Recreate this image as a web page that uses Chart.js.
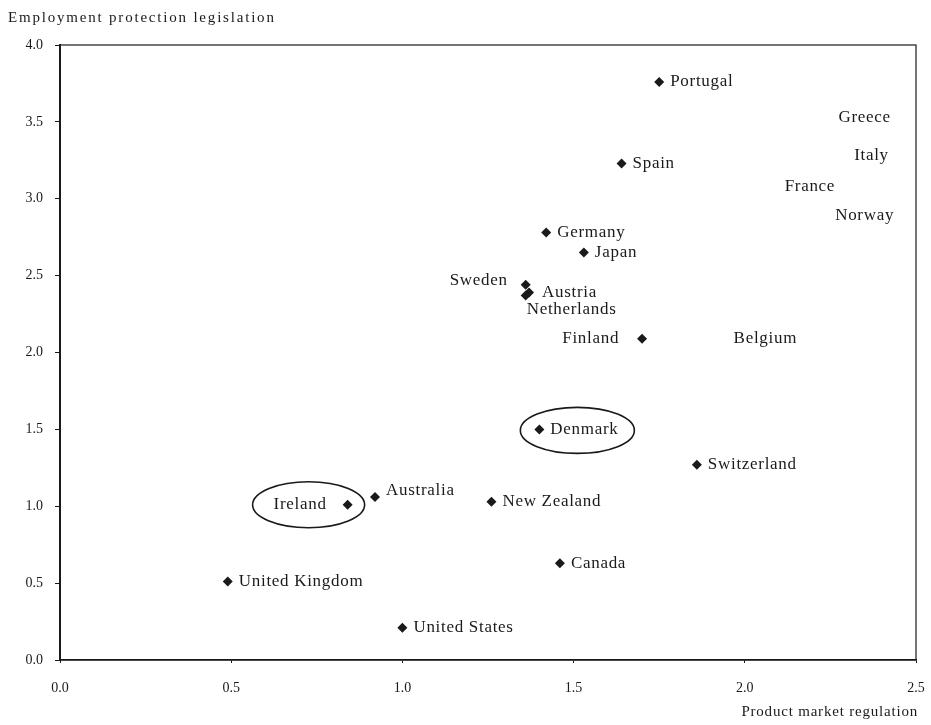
<!DOCTYPE html>
<html>
<head>
<meta charset="utf-8">
<script src="https://cdn.jsdelivr.net/npm/chart.js@4/dist/chart.umd.min.js"></script>
<style>
html,body{margin:0;padding:0;background:#fff;}
#wrap{width:931px;height:725px;position:relative;}
</style>
</head>
<body>
<div id="wrap"><canvas id="c" width="931" height="725"></canvas></div>
<script>
// Countries with plotted markers
const countries = ["Portugal","Spain","Germany","Japan","Sweden","Austria","Netherlands","Finland","Denmark","Switzerland","Australia","Ireland","New Zealand","Canada","United Kingdom","United States"];
const productMarketReg = [1.75,1.64,1.42,1.53,1.36,1.37,1.36,1.70,1.40,1.86,0.92,0.84,1.26,1.46,0.49,1.00];
const employmentProt   = [3.76,3.23,2.78,2.65,2.44,2.39,2.37,2.09,1.50,1.27,1.06,1.01,1.03,0.63,0.51,0.21];

// Countries shown only by their label (markers lie outside the plotted range)
const labelOnlyCountries = ["Greece","Italy","France","Norway","Belgium"];
const labelOnlyX = [2.35,2.37,2.19,2.35,2.06];
const labelOnlyY = [3.53,3.28,3.08,2.89,2.09];

// Highlighted countries (circled)
const highlighted = ["Denmark","Ireland"];

const xTicks = [0,0.5,1.0,1.5,2.0,2.5];
const yTicks = [0,0.5,1.0,1.5,2.0,2.5,3.0,3.5,4.0];
const xTitle = "Product market regulation";
const yTitle = "Employment protection legislation";

// label placement (style only): [dx, dy, align]
const labelPlace = {
  "Sweden": [-18,-4,"right"],
  "Finland": [-23,0,"right"],
  "Ireland": [-21,0,"right"],
  "Australia": [11,-6,"left"],
  "Austria": [13,0,"left"],
  "Netherlands": [1,14,"left"]
};
const ellipsePlace = { "Denmark":[38,1,57,23], "Ireland":[-39,0,56,23] };

const FONT = "'Liberation Serif','DejaVu Serif',serif";
const INK = "#1a1a1a";

const labelPlugin = {
  id:'labels',
  afterDatasetsDraw(chart){
    const ctx = chart.ctx;
    const xs = chart.scales.x, ys = chart.scales.y;
    const a = chart.chartArea;
    ctx.save();
    // frame
    ctx.strokeStyle = INK; ctx.lineWidth = 1.2;
    ctx.strokeRect(a.left, a.top, a.right-a.left, a.bottom-a.top);
    ctx.lineWidth = 2;
    ctx.beginPath(); ctx.moveTo(a.left, a.top); ctx.lineTo(a.left, a.bottom); ctx.stroke();
    ctx.font = "17px " + FONT;
    ctx.letterSpacing = "0.7px";
    ctx.fillStyle = INK;
    ctx.textBaseline = "middle";
    countries.forEach((name,i)=>{
      const px = xs.getPixelForValue(productMarketReg[i]);
      const py = ys.getPixelForValue(employmentProt[i]);
      const pl = labelPlace[name] || [11,0,"left"];
      ctx.textAlign = pl[2];
      ctx.fillText(name, px+pl[0], py+pl[1]);
      if (highlighted.includes(name)) {
        const e = ellipsePlace[name];
        ctx.lineWidth = 1.6;
        ctx.beginPath();
        ctx.ellipse(px+e[0], py+e[1], e[2], e[3], 0, 0, Math.PI*2);
        ctx.stroke();
      }
    });
    labelOnlyCountries.forEach((name,i)=>{
      ctx.textAlign = "center";
      ctx.fillText(name, xs.getPixelForValue(labelOnlyX[i]), ys.getPixelForValue(labelOnlyY[i]));
    });
    // axis titles
    ctx.font = "15px " + FONT;
    ctx.letterSpacing = "1.8px";
    ctx.textAlign = "left";
    ctx.fillText(yTitle, 8, 18);
    ctx.letterSpacing = "0.8px";
    ctx.textAlign = "right";
    ctx.fillText(xTitle, 918, 712);
    ctx.restore();
  }
};

new Chart(document.getElementById('c'), {
  type:'scatter',
  data:{
    datasets:[{
      data: countries.map((n,i)=>({x:productMarketReg[i], y:employmentProt[i]})),
      pointStyle:'rectRot',
      pointRadius:5,
      pointHoverRadius:5,
      backgroundColor:INK,
      borderColor:INK,
      borderWidth:0
    }]
  },
  options:{
    responsive:false,
    animation:false,
    events:[],
    layout:{padding:{top:45,right:15,left:0,bottom:0}},
    plugins:{legend:{display:false},tooltip:{enabled:false}},
    scales:{
      x:{
        type:'linear', min:0, max:2.5,
        afterBuildTicks(s){ s.ticks = xTicks.map(v=>({value:v})); },
        afterFit(s){ s.height = 65; s.paddingRight = 0; s.paddingLeft = 0; },
        grid:{display:true, drawOnChartArea:false, drawTicks:true, tickLength:3, color:INK},
        border:{display:true, color:INK, width:1.5},
        ticks:{font:{family:FONT,size:14}, color:INK, padding:17, maxRotation:0,
          callback:v=>Number(v).toFixed(1)}
      },
      y:{
        type:'linear', min:0, max:4,
        afterBuildTicks(s){ s.ticks = yTicks.map(v=>({value:v})); },
        afterFit(s){ s.width = 60; s.paddingTop = 0; s.paddingBottom = 0; },
        grid:{display:true, drawOnChartArea:false, drawTicks:true, tickLength:5, color:INK},
        border:{display:true, color:INK, width:2},
        ticks:{font:{family:FONT,size:14}, color:INK, padding:12,
          callback:v=>Number(v).toFixed(1)}
      }
    }
  },
  plugins:[labelPlugin]
});
</script>
</body>
</html>
